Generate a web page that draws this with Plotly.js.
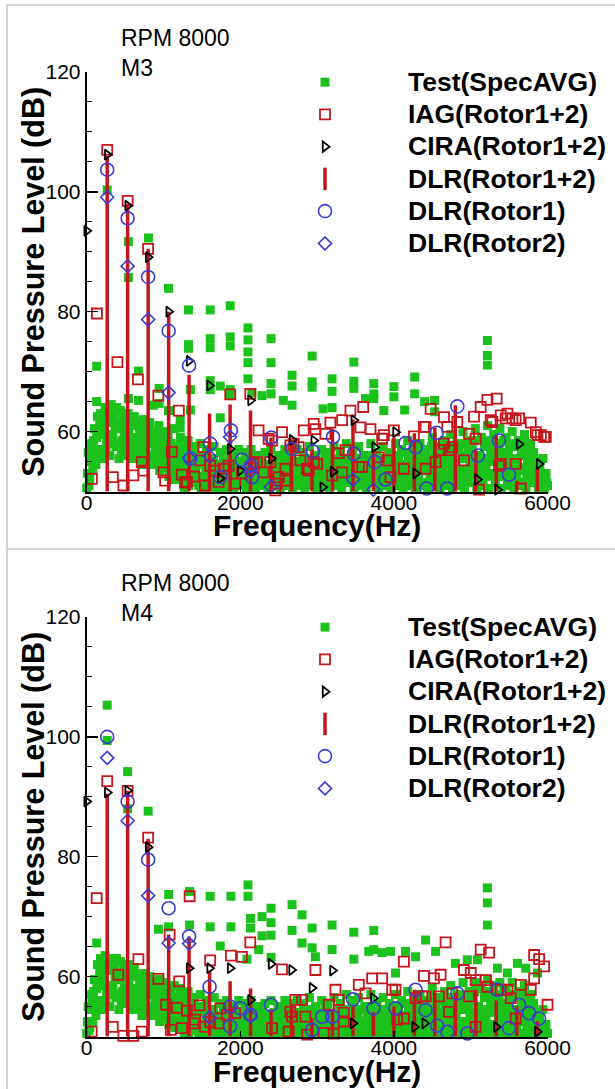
<!DOCTYPE html>
<html><head><meta charset="utf-8">
<script src="https://cdn.plot.ly/plotly-3.0.1.min.js"></script>
<style>html,body{margin:0;padding:0;background:#fff;}#chart{width:615px;height:1089px;}</style>
</head><body><div id="chart"></div>
<script>
// ---------------- DATA ----------------
// Test spectrum frequency grid (Hz), two interleaved read-outs
const testFreq = [
0,20,40,60,80,100,120,140,160,180,
200,220,240,260,280,300,320,340,360,380,
400,420,440,460,480,500,520,540,560,580,
600,620,640,660,680,700,720,740,760,780,
800,820,840,860,880,900,920,940,960,980,
1000,1020,1040,1060,1080,1100,1120,1140,1160,1180,
1200,1220,1240,1260,1280,1300,1320,1340,1360,1380,
1400,1420,1440,1460,1480,1500,1520,1540,1560,1580,
1600,1620,1640,1660,1680,1700,1720,1740,1760,1780,
1800,1820,1840,1860,1880,1900,1920,1940,1960,1980,
2000,2020,2040,2060,2080,2100,2120,2140,2160,2180,
2200,2220,2240,2260,2280,2300,2320,2340,2360,2380,
2400,2420,2440,2460,2480,2500,2520,2540,2560,2580,
2600,2620,2640,2660,2680,2700,2720,2740,2760,2780,
2800,2820,2840,2860,2880,2900,2920,2940,2960,2980,
3000,3020,3040,3060,3080,3100,3120,3140,3160,3180,
3200,3220,3240,3260,3280,3300,3320,3340,3360,3380,
3400,3420,3440,3460,3480,3500,3520,3540,3560,3580,
3600,3620,3640,3660,3680,3700,3720,3740,3760,3780,
3800,3820,3840,3860,3880,3900,3920,3940,3960,3980,
4000,4020,4040,4060,4080,4100,4120,4140,4160,4180,
4200,4220,4240,4260,4280,4300,4320,4340,4360,4380,
4400,4420,4440,4460,4480,4500,4520,4540,4560,4580,
4600,4620,4640,4660,4680,4700,4720,4740,4760,4780,
4800,4820,4840,4860,4880,4900,4920,4940,4960,4980,
5000,5020,5040,5060,5080,5100,5120,5140,5160,5180,
5200,5220,5240,5260,5280,5300,5320,5340,5360,5380,
5400,5420,5440,5460,5480,5500,5520,5540,5560,5580,
5600,5620,5640,5660,5680,5700,5720,5740,5760,5780,
5800,5820,5840,5860,5880,5900,5920,5940,5960,5980,
6000];
const testFreq2 = [
10,30,50,70,90,110,130,150,170,190,
210,230,250,270,290,310,330,350,370,390,
410,430,450,470,490,510,530,550,570,590,
610,630,650,670,690,710,730,750,770,790,
810,830,850,870,890,910,930,950,970,990,
1010,1030,1050,1070,1090,1110,1130,1150,1170,1190,
1210,1230,1250,1270,1290,1310,1330,1350,1370,1390,
1410,1430,1450,1470,1490,1510,1530,1550,1570,1590,
1610,1630,1650,1670,1690,1710,1730,1750,1770,1790,
1810,1830,1850,1870,1890,1910,1930,1950,1970,1990,
2010,2030,2050,2070,2090,2110,2130,2150,2170,2190,
2210,2230,2250,2270,2290,2310,2330,2350,2370,2390,
2410,2430,2450,2470,2490,2510,2530,2550,2570,2590,
2610,2630,2650,2670,2690,2710,2730,2750,2770,2790,
2810,2830,2850,2870,2890,2910,2930,2950,2970,2990,
3010,3030,3050,3070,3090,3110,3130,3150,3170,3190,
3210,3230,3250,3270,3290,3310,3330,3350,3370,3390,
3410,3430,3450,3470,3490,3510,3530,3550,3570,3590,
3610,3630,3650,3670,3690,3710,3730,3750,3770,3790,
3810,3830,3850,3870,3890,3910,3930,3950,3970,3990,
4010,4030,4050,4070,4090,4110,4130,4150,4170,4190,
4210,4230,4250,4270,4290,4310,4330,4350,4370,4390,
4410,4430,4450,4470,4490,4510,4530,4550,4570,4590,
4610,4630,4650,4670,4690,4710,4730,4750,4770,4790,
4810,4830,4850,4870,4890,4910,4930,4950,4970,4990,
5010,5030,5050,5070,5090,5110,5130,5150,5170,5190,
5210,5230,5250,5270,5290,5310,5330,5350,5370,5390,
5410,5430,5450,5470,5490,5510,5530,5550,5570,5590,
5610,5630,5650,5670,5690,5710,5730,5750,5770,5790,
5810,5830,5850,5870,5890,5910,5930,5950,5970,5990];

// Test(SpecAVG) broadband levels, M3
const testBandM3 = [
50.6,56.5,52.0,58.0,53.5,60.5,54.5,62.5,57.0,63.0,
55.5,61.0,64.0,58.0,62.5,56.0,64.5,59.5,63.0,57.5,
61.5,55.5,63.5,58.5,62.0,56.0,60.0,63.0,57.0,61.5,
55.5,62.5,58.5,61.0,56.0,60.5,54.5,62.0,57.5,59.5,
55.0,61.5,58.0,60.0,54.5,59.0,56.5,61.0,55.0,58.5,
54.0,60.0,56.5,59.5,53.5,58.0,55.0,60.5,53.0,57.5,
54.5,59.0,52.5,57.0,55.5,51.5,58.5,54.0,56.5,52.0,
57.5,53.0,55.5,51.0,58.0,52.5,56.0,50.5,57.0,54.0,
51.0,55.5,53.0,57.5,50.5,54.5,52.0,56.5,50.5,55.0,
53.0,57.0,51.0,55.5,52.5,56.0,50.5,54.0,52.0,57.0,
51.5,55.0,53.0,56.5,50.5,54.0,52.0,57.0,51.0,55.5,
50.5,53.5,56.0,52.5,55.0,51.0,56.5,53.0,50.5,54.5,
57.0,52.0,55.0,51.0,53.5,56.0,50.5,54.0,52.5,57.0,
51.5,55.5,53.0,56.5,50.5,54.5,52.0,57.0,51.0,55.0,
53.0,56.5,50.5,54.0,52.5,57.5,51.5,55.0,53.0,56.0,
50.5,54.5,52.0,57.0,51.0,55.5,53.0,56.5,50.5,54.0,
52.0,57.5,51.0,55.0,53.5,56.5,50.5,54.5,52.5,58.0,
51.5,55.5,53.0,57.0,50.5,54.0,52.0,57.5,51.0,55.5,
53.0,56.0,50.5,54.5,52.0,58.0,51.5,55.0,53.5,56.5,
50.5,54.0,52.5,57.5,51.0,55.5,53.0,56.5,50.5,54.5,
52.0,58.0,51.0,55.5,53.5,57.0,50.5,54.5,52.5,58.5,
51.5,56.0,53.0,57.5,50.5,55.0,52.0,58.0,51.0,56.5,
53.5,57.0,50.5,55.5,52.5,59.0,51.5,56.0,54.0,57.5,
50.5,55.0,52.5,58.5,51.0,56.5,53.5,59.5,50.5,55.0,
52.0,58.0,51.0,56.0,53.5,60.0,50.5,55.5,52.5,58.5,
51.5,57.0,54.0,60.5,50.5,56.0,52.5,59.0,51.0,57.5,
54.0,61.0,50.5,56.5,53.0,59.5,51.5,57.0,54.5,60.5,
50.5,56.0,52.5,59.0,51.0,57.5,54.0,60.0,50.5,55.5,
52.5,58.5,51.0,56.5,53.5,59.5,50.5,55.0,52.0,58.0,
51.5,56.5,53.0,55.0,50.5,54.0,52.0,55.5,50.5,53.0,
51.0];
const testBand2M3 = [
53.0,51.0,55.0,56.5,58.5,56.0,59.0,60.0,61.5,59.5,
60.0,62.5,57.0,63.0,59.5,61.5,58.0,62.0,60.5,64.0,
58.0,60.5,57.0,61.0,59.5,62.5,58.0,59.5,61.0,56.5,
59.0,57.0,61.5,55.5,60.0,57.5,59.0,56.0,60.5,55.5,
58.5,56.0,59.5,54.5,57.5,55.5,59.5,53.5,57.0,56.0,
57.5,55.0,58.5,52.5,56.0,55.5,57.5,52.0,56.5,54.0,
56.0,53.5,55.0,50.5,57.5,54.0,51.0,56.0,52.5,55.5,
51.5,54.5,52.5,56.0,50.5,55.0,52.0,53.5,51.5,55.5,
53.0,51.5,55.0,52.0,54.0,51.0,53.5,52.0,54.0,51.5,
55.0,52.0,53.5,50.5,54.0,52.0,55.5,51.0,53.5,51.5,
53.0,51.0,54.5,52.0,53.5,50.5,55.0,52.5,53.5,51.5,
54.0,52.0,51.5,54.5,51.0,53.5,52.0,54.5,51.5,53.0,
51.5,54.0,52.5,53.5,55.5,51.5,53.0,55.5,51.0,52.5,
54.0,52.0,51.0,53.5,55.0,52.5,53.5,51.0,54.0,52.5,
51.0,53.0,54.5,52.0,55.5,51.0,53.5,52.0,54.5,51.5,
53.0,52.0,55.0,51.5,53.5,51.5,55.0,52.0,53.5,52.0,
54.5,51.5,53.5,52.0,55.5,52.0,54.0,51.5,55.5,53.0,
54.0,52.0,51.5,53.5,55.5,52.5,54.5,51.5,53.5,52.0,
51.5,53.5,55.0,52.0,56.0,53.0,54.5,51.5,53.0,52.0,
53.0,52.0,55.5,51.5,54.0,52.0,51.5,54.0,52.5,56.0,
54.5,53.0,56.0,52.0,51.0,54.0,52.0,56.5,51.0,55.0,
53.5,52.5,55.0,51.5,54.0,53.0,56.5,51.5,54.5,53.5,
55.0,51.5,53.5,52.5,57.5,53.5,54.0,55.5,51.5,53.0,
53.0,57.0,53.5,55.5,52.5,54.0,57.5,52.0,56.5,53.5,
55.0,53.5,57.5,52.0,55.5,52.0,58.0,53.5,56.5,54.5,
55.0,52.5,58.5,53.0,56.0,54.5,53.5,55.5,54.0,53.0,
58.5,52.5,55.0,58.0,56.0,53.0,55.5,52.5,58.0,56.5,
54.0,58.5,53.5,55.0,56.5,52.5,58.0,55.0,52.0,57.5,
55.0,53.5,54.0,58.0,51.5,56.0,53.0,57.5,54.0,55.5,
53.5,52.5,54.5,51.5,53.5,52.0,51.5,53.0,52.5,51.5];

// Test(SpecAVG) broadband levels, M4
const testBandM4 = [
50.5,55.0,51.5,57.0,52.5,59.5,53.5,62.0,56.0,63.0,
54.5,60.5,63.5,57.0,61.5,55.0,63.0,58.5,62.0,56.5,
60.5,54.5,62.5,57.5,61.0,55.5,59.0,62.0,56.0,60.5,
54.5,61.5,57.5,60.0,55.0,59.5,53.5,60.5,56.5,58.5,
54.0,60.0,57.0,59.0,53.5,58.0,55.5,59.5,54.0,57.5,
53.0,59.0,55.5,58.0,52.5,57.0,54.0,58.5,52.0,56.5,
53.5,58.0,51.5,56.0,54.5,51.0,57.5,53.0,55.5,51.5,
56.5,52.0,54.5,50.5,57.0,51.5,55.0,50.5,56.0,53.0,
50.5,54.5,52.0,56.5,50.5,53.5,51.0,55.5,50.5,54.0,
52.0,56.0,50.5,54.5,51.5,55.0,50.5,53.0,51.0,56.0,
50.5,54.0,52.0,55.5,50.5,53.0,51.0,56.0,50.5,54.5,
50.5,52.5,55.0,51.5,54.0,50.5,55.5,52.0,50.5,53.5,
56.0,51.0,54.0,50.5,52.5,55.0,50.5,53.0,51.5,56.0,
50.5,54.5,52.0,55.5,50.5,53.5,51.0,56.0,50.5,54.0,
52.0,55.5,50.5,53.0,51.5,56.5,50.5,54.0,52.0,55.0,
50.5,53.5,51.0,56.0,50.5,54.5,52.0,55.5,50.5,53.0,
51.0,56.5,50.5,54.0,52.5,55.5,50.5,53.5,51.5,57.0,
50.5,54.5,52.0,56.0,50.5,53.0,51.0,56.5,50.5,54.5,
52.0,55.0,50.5,53.5,51.0,57.0,50.5,54.0,52.5,55.5,
50.5,53.0,51.5,56.5,50.5,54.5,52.0,55.5,50.5,53.5,
51.0,57.0,50.5,54.5,52.5,56.0,50.5,53.5,51.5,57.5,
50.5,55.0,52.0,56.5,50.5,54.0,51.0,57.0,50.5,55.5,
52.5,56.0,50.5,54.5,51.5,58.0,50.5,55.0,53.0,56.5,
50.5,54.0,51.5,57.5,50.5,55.5,52.5,58.5,50.5,54.0,
51.0,57.0,50.5,55.0,52.5,59.0,50.5,54.5,51.5,57.5,
50.5,56.0,53.0,59.0,50.5,55.0,51.5,58.0,50.5,56.5,
53.0,59.5,50.5,55.5,52.0,58.5,50.5,56.0,53.5,59.0,
50.5,55.0,51.5,58.0,50.5,56.5,53.0,59.0,50.5,54.5,
51.5,57.5,50.5,55.5,52.5,58.5,50.5,54.0,51.0,57.0,
50.5,55.5,52.0,54.0,50.5,53.0,51.0,54.5,50.5,52.0,
50.5];
const testBand2M4 = [
52.5,51.0,54.5,55.5,57.5,55.0,58.0,59.5,61.0,58.5,
59.5,62.0,56.0,62.5,58.5,61.0,57.0,61.5,59.5,63.0,
57.0,59.5,56.0,60.0,58.5,61.5,57.0,58.5,60.0,55.5,
58.0,56.0,60.0,54.5,59.0,56.5,58.0,55.0,59.5,54.5,
57.5,55.0,58.5,53.5,56.5,55.0,58.0,52.5,56.0,55.0,
56.5,54.0,57.5,52.0,55.0,54.5,56.5,51.5,55.5,53.0,
55.0,52.5,54.0,50.5,56.5,53.0,50.5,55.0,52.0,54.5,
51.0,53.5,52.0,55.0,50.5,54.0,51.5,52.5,51.0,54.5,
52.5,51.0,54.0,51.5,53.0,50.5,52.5,51.5,53.0,51.0,
54.0,51.5,52.5,50.5,53.0,51.5,54.5,50.5,52.5,51.0,
52.0,50.5,53.5,51.5,52.5,50.5,54.0,52.0,52.5,51.0,
53.0,51.5,51.0,53.5,50.5,52.5,51.5,53.5,51.0,52.0,
51.0,53.0,52.0,52.5,54.5,51.0,52.0,54.5,50.5,51.5,
53.0,51.5,50.5,52.5,54.0,52.0,52.5,50.5,53.0,52.0,
50.5,52.0,53.5,51.5,54.5,50.5,52.5,51.5,53.5,51.0,
52.0,51.5,54.0,51.0,52.5,51.0,54.0,51.5,52.5,51.5,
53.5,51.0,52.5,51.5,54.5,51.5,53.0,51.0,54.5,52.0,
53.0,51.5,51.0,52.5,54.5,52.0,53.5,51.0,52.5,51.5,
51.0,52.5,54.0,51.5,55.0,52.0,53.5,51.0,52.0,51.5,
52.0,51.5,54.5,51.0,53.0,51.5,51.0,53.0,52.0,55.0,
53.5,52.0,55.0,51.5,50.5,53.0,51.5,55.5,50.5,54.0,
52.5,52.0,54.0,51.0,53.0,52.0,55.5,51.0,53.5,52.5,
54.0,51.0,52.5,52.0,56.5,52.5,53.0,54.5,51.0,52.0,
52.0,56.0,52.5,54.5,51.5,53.0,56.5,51.5,55.5,52.5,
54.0,52.5,56.5,51.5,54.5,51.5,57.0,52.5,55.5,53.5,
54.0,51.5,57.5,52.0,55.0,53.5,52.5,54.5,53.0,52.0,
57.5,51.5,54.0,57.0,55.0,52.0,54.5,51.5,57.0,55.5,
53.0,57.5,52.5,54.0,55.5,51.5,57.0,54.0,51.0,56.5,
54.0,52.5,53.0,57.0,50.5,55.0,52.0,56.5,53.0,54.5,
52.5,51.5,53.5,50.5,52.5,51.0,50.5,52.0,51.5,50.5];

// Test(SpecAVG) tonal / high-level points
const testPeakFreqM3 = [267,543,543,804,1065,130,130,543,673,673,869,943,943,1065,1217,1217,
1325,1325,1325,1350,1350,1608,1608,1608,1608,1608,1739,1739,1869,1869,1869,1869,1869,
2100,2100,2100,2100,2100,2150,2283,2400,2400,2400,2400,2560,2674,2674,2674,2935,2935,2935,
3078,3195,3195,3195,3478,3478,3478,3630,3738,3738,3738,3869,4000,4000,4140,4270,4270,4400,
4530,4530,5217,5217,5217];
const testPeakM3 = [100.3,91.7,85.7,92.3,83.9,70.9,65.0,65.5,70.1,65.2,64.4,67.2,64.7,63.5,62.0,60.6,
80.3,74.5,73.9,67.0,63.6,80.3,75.5,74.0,68.5,67.0,67.6,62.3,81.0,75.8,74.3,67.0,66.0,
77.3,75.3,73.3,71.5,68.8,66.5,66.0,75.5,71.5,68.0,66.3,65.2,69.4,67.6,64.4,72.6,68.3,67.4,
63.8,68.8,66.7,64.0,71.6,68.4,67.2,65.5,68.0,66.3,65.5,63.5,67.5,65.8,63.6,69.1,66.3,65.0,
65.2,63.3,75.2,72.7,71.1];

const testPeakFreqM4 = [267,267,533,533,800,130,934,1067,1067,1340,1340,1608,1608,1878,1878,1739,
2100,2100,2133,2133,2087,2400,2400,2400,2400,2283,2283,2240,2674,2674,2804,2804,2935,2935,2978,
3195,3195,3478,3478,3673,3738,3738,3847,3956,4021,4152,4282,4413,4543,4800,4956,5087,
5217,5217,5217,5348,5478,5608,5717,5870];
const testPeakM4 = [105.3,99.4,94.2,88.0,87.6,65.6,67.9,73.7,68.3,74.2,68.6,73.4,68.3,73.4,68.3,65.1,
75.3,73.4,69.7,68.1,62.9,71.4,69.0,66.9,63.2,70.0,66.8,64.5,72.0,67.7,70.3,65.6,68.1,64.8,63.3,
68.6,64.5,67.4,62.9,64.2,67.7,64.5,64.0,64.2,60.6,64.2,63.3,66.1,64.2,62.2,62.8,62.8,
74.8,72.3,68.6,61.4,60.6,62.2,61.4,60.6];

// IAG(Rotor1+2)
const iagFreqM3 = [67,133,267,339,400,478,533,608,667,717,738,800,933,1000,1021,1108,1200,1239,1280,1304,
1400,1478,1521,1540,1608,1673,1717,1782,1847,1869,1934,2021,2130,2130,2174,2217,2238,2304,2369,2391,
2413,2456,2478,2500,2543,2587,2587,2652,2695,2760,2782,2826,2870,2891,2956,2956,2978,3000,3108,3173,
3195,3282,3326,3326,3369,3434,3543,3565,3587,3600,3695,3804,3847,3869,3913,3956,4000,4130,4260,4391,
4413,4413,4478,4543,4608,4652,4652,4695,4717,4760,4826,4912,4978,5043,5065,5108,5130,5217,5260,5282,
5338,5369,5391,5391,5456,5478,5543,5586,5586,5630,5652,5782,5847,5869,5913,5956,5978,6008];
const iagM3 = [52.1,79.7,107.0,52.4,71.6,51.0,98.5,52.7,68.7,54.9,53.5,90.5,66.0,53.2,51.8,56.6,63.5,52.8,51.5,51.6,
52.5,55.2,57.4,51.0,54.3,53.5,51.6,53.8,54.3,66.2,51.3,53.0,66.3,54.0,54.6,54.9,60.2,53.2,58.8,54.9,
58.5,50.2,51.3,52.4,59.9,51.8,53.8,57.7,58.0,57.4,55.2,60.2,53.8,53.5,61.3,54.9,60.4,54.6,59.6,61.5,
52.7,56.4,61.9,53.2,56.9,63.5,54.1,60.7,54.1,64.1,60.4,55.7,58.8,59.4,55.2,52.4,60.2,53.8,59.2,60.8,
60.8,53.8,63.8,54.9,56.9,62.4,58.0,60.8,56.9,57.4,61.6,55.2,59.6,62.5,58.8,50.3,64.1,65.3,61.9,61.6,
65.5,54.3,62.7,54.6,62.2,63.0,62.2,61.9,54.6,62.2,50.5,61.5,59.9,59.4,59.4,59.1,59.1,64.8];

const iagFreqM4 = [65,130,267,339,412,478,533,608,673,717,800,934,1034,1080,1095,1174,1204,1239,1304,1340,
1391,1413,1469,1543,1608,1608,1717,1739,1826,1878,1934,2021,2130,2413,2543,2630,2652,2674,2717,2804,
2848,2870,2978,3086,3152,3217,3239,3282,3347,3347,3543,3630,3717,3847,3978,4021,4043,4130,4130,4282,
4369,4391,4413,4521,4586,4608,4673,4717,4760,4912,4978,5000,5065,5065,5130,5195,5217,5239,5391,5478,
5521,5586,5652,5782,5826,5826,5891,5956,6000];
const iagM4 = [50.8,73.1,92.6,51.6,60.3,50.1,91.0,50.1,62.9,50.8,83.2,59.6,55.3,67.0,51.1,54.8,59.2,51.4,54.3,73.4,
52.2,52.8,55.2,51.6,62.7,52.4,52.2,54.7,53.6,63.5,53.9,63.3,65.7,51.4,61.2,50.8,54.1,53.3,56.1,56.1,
53.3,50.3,61.1,50.6,55.3,50.5,57.8,56.1,54.0,52.5,58.6,57.2,59.7,59.7,57.8,57.8,52.8,62.5,53.0,56.4,
56.7,60.1,56.7,59.7,56.7,60.3,65.7,54.1,57.2,61.1,56.7,60.6,59.4,51.6,64.5,59.4,58.3,64.0,57.8,57.8,
56.4,53.0,58.6,57.8,63.6,59.7,62.9,61.7,55.3];

// CIRA(Rotor1+2)
const ciraFreqM3 = [0,267,533,800,1067,1333,1600,1739,1867,2000,2133,2404,2674,2956,3073,3208,3478,3748,4021,4282,5087,5348,5629,5891];
const ciraM3 = [93.5,106.2,97.7,89.1,80.0,71.8,67.7,52.2,57.1,53.5,65.2,55.5,58.6,58.5,50.7,53.3,61.9,57.4,59.9,53.0,52.0,50.3,57.9,54.6];
const ciraFreqM4 = [0,267,533,800,1333,1600,1867,2133,2400,2667,2933,3200,3467,3733,4267,4400,5333,5867];
const ciraM4 = [89.2,90.7,91.0,81.6,61.4,61.4,61.4,56.1,62.1,61.1,58.1,61.0,52.2,56.4,51.6,52.2,51.6,50.8];

// DLR(Rotor1+2): tonal lines at blade passing frequency harmonics
const dlrFreq = [267,533,800,1067,1333,1600,1867,2133,2400,2667,2933,3200,3467,3733,4000,4267,4533,4800,5067,5333,5600,5867];
const dlr12M3 = [106,98,90.5,80,69.5,63,64.5,63.5,59,58.5,57,60.5,62,57,59,59.7,60.7,64.4,56.9,59.4,51.8,54];
const dlr12M4 = [90.5,91,83,67,66.7,61,59.2,58,54.5,55,53,54.5,55,54,55,57.8,57.3,57.3,57.8,56,55,52.5];

// DLR(Rotor1)
const dlr1FreqM3 = [267,533,800,1067,1333,1350,1608,1739,1878,2021,2139,2152,2404,2674,2943,3208,3478,3752,3891,4152,4283,4426,4556,4695,4826,5095,5369,5499];
const dlr1M3 = [103.7,95.6,85.8,76.8,71.0,55.5,58.0,52.4,60.2,55.3,54.3,52.4,59.0,57.1,56.7,59.1,56.3,54.9,52.0,58.1,57.4,50.5,59.8,50.5,64.2,56.0,58.5,52.8];
const dlr1FreqM4 = [267,533,800,1067,1333,1600,1867,1867,2000,2133,2400,2933,3067,3200,3467,3733,4021,4282,4413,4565,4695,4826,4956,5348,5499,5630,5760,5891];
const dlr1M4 = [100,89.2,79.5,71.4,66.7,58.3,55.0,51.7,54.7,53.6,55.3,51.1,53.3,53.3,56.2,54.7,54.7,57.8,54.4,51.8,50.8,57.2,50.5,57.8,51.4,55.3,53.9,53.0];

// DLR(Rotor2)
const dlr2FreqM3 = [267,533,800,1067,1333,1600,1867,2133,2400,3467,3733];
const dlr2M3 = [99.1,87.6,78.7,66.5,55.6,55.9,59.1,53.3,50.8,52.0,50.3];
const dlr2FreqM4 = [267,533,800,1067,1333,1600,2133];
const dlr2M4 = [96.5,86.0,73.5,65.6,65.5,53.2,53.4];

const seriesNames = ['Test(SpecAVG)','IAG(Rotor1+2)','CIRA(Rotor1+2)','DLR(Rotor1+2)','DLR(Rotor1)','DLR(Rotor2)'];
const panelLabels = ['RPM 8000<br>M3','RPM 8000<br>M4'];
const xTitle = 'Frequency(Hz)';
const yTitle = 'Sound Pressure Level (dB)';
const xTickVals = [0,2000,4000,6000];
const yTickVals = [60,80,100,120];
const yFloor = 50;

// ---------------- STYLE ----------------
const W = 615, H = 1089;
const FONT = 'Liberation Sans, Arial, Helvetica, sans-serif';
const GREEN = '#1cc21c', RED = '#c4161c', BLUE = '#3c3cd0', BLACK = '#000000';
const plotLeft = 86.7, plotRight = 547.5;
const panels = [
  {top: 72, bottom: 491.5, legendTop: 61, labelY: 53, xTitleY: 526},
  {top: 617, bottom: 1036.5, legendTop: 606, labelY: 598, xTitleY: 1071}
];

function stems(freqs, vals) {
  const xs = [], ys = [];
  for (let i = 0; i < freqs.length; i++) {
    xs.push(freqs[i], freqs[i], null);
    ys.push(yFloor, vals[i], null);
  }
  return {x: xs, y: ys};
}
function legendName(s) { return '<span style="font-size:26.5px">' + s + '</span>'; }

const data = [];
const sets = [
  {band: testBandM3, band2: testBand2M3, pf: testPeakFreqM3, pv: testPeakM3, iagF: iagFreqM3, iag: iagM3, ciraF: ciraFreqM3, cira: ciraM3,
   d12: dlr12M3, d1F: dlr1FreqM3, d1: dlr1M3, d2F: dlr2FreqM3, d2: dlr2M3},
  {band: testBandM4, band2: testBand2M4, pf: testPeakFreqM4, pv: testPeakM4, iagF: iagFreqM4, iag: iagM4, ciraF: ciraFreqM4, cira: ciraM4,
   d12: dlr12M4, d1F: dlr1FreqM4, d1: dlr1M4, d2F: dlr2FreqM4, d2: dlr2M4}
];

sets.forEach((s, p) => {
  const xa = p === 0 ? 'x' : 'x2', ya = p === 0 ? 'y' : 'y2', lg = p === 0 ? 'legend' : 'legend2';
  const common = {xaxis: xa, yaxis: ya, legend: lg, type: 'scatter', cliponaxis: false, hoverinfo: 'skip'};
  data.push(Object.assign({}, common, {name: legendName(seriesNames[0]), legendrank: 1, mode: 'markers',
    x: testFreq.concat(testFreq2, s.pf), y: s.band.concat(s.band2, s.pv),
    marker: {symbol: 'square', size: 9, color: GREEN, line: {width: 0}}}));
  const st = stems(dlrFreq, s.d12);
  data.push(Object.assign({}, common, {name: legendName(seriesNames[3]), showlegend: false, mode: 'lines',
    x: st.x, y: st.y, line: {color: RED, width: 3.5}, connectgaps: false}));
  data.push(Object.assign({}, common, {name: legendName(seriesNames[3]), legendrank: 4, mode: 'markers',
    x: [null], y: [null],
    marker: {symbol: 'line-ns-open', size: 16, color: RED, line: {width: 3.5, color: RED}}}));
  data.push(Object.assign({}, common, {name: legendName(seriesNames[1]), legendrank: 2, mode: 'markers',
    x: s.iagF, y: s.iag,
    marker: {symbol: 'square-open', size: 10, color: RED, line: {width: 1.8, color: RED}}}));
  data.push(Object.assign({}, common, {name: legendName(seriesNames[2]), legendrank: 3, mode: 'markers',
    x: s.ciraF, y: s.cira,
    marker: {symbol: 'triangle-right-open', size: 9, color: BLACK, line: {width: 1.8, color: BLACK}}}));
  data.push(Object.assign({}, common, {name: legendName(seriesNames[4]), legendrank: 5, mode: 'markers',
    x: s.d1F, y: s.d1,
    marker: {symbol: 'circle-open', size: 13, color: BLUE, line: {width: 1.6, color: BLUE}}}));
  data.push(Object.assign({}, common, {name: legendName(seriesNames[5]), legendrank: 6, mode: 'markers',
    x: s.d2F, y: s.d2,
    marker: {symbol: 'diamond-open', size: 10, color: BLUE, line: {width: 1.6, color: BLUE}}}));
});

function xAxis(anchor) {
  return {
    anchor: anchor, domain: [plotLeft / W, plotRight / W], range: [0, 6000],
    showline: true, linecolor: BLACK, linewidth: 2, mirror: false,
    ticks: 'inside', ticklen: 6, tickwidth: 1.5, tickcolor: BLACK, tickvals: xTickVals,
    ticklabelstandoff: -9,
    showgrid: false, zeroline: false, fixedrange: true,
    tickfont: {family: FONT, size: 21, color: BLACK}
  };
}
function yAxis(anchor, pn) {
  return {
    anchor: anchor, domain: [1 - pn.bottom / H, 1 - pn.top / H], range: [50, 120],
    showline: true, linecolor: BLACK, linewidth: 2,
    ticks: 'inside', ticklen: 11, tickwidth: 1.5, tickcolor: BLACK, tickvals: yTickVals,
    minor: {ticks: 'inside', ticklen: 5, tickwidth: 1, tickcolor: BLACK, dtick: 5, tick0: 50, showgrid: false},
    showgrid: false, zeroline: false, fixedrange: true,
    tickfont: {family: FONT, size: 21, color: BLACK}
  };
}
function legendDef(pn) {
  return {
    x: 242 / W, xanchor: 'left', y: 1 - pn.legendTop / H, yanchor: 'top',
    bgcolor: 'rgba(0,0,0,0)', borderwidth: 0, itemwidth: 156, tracegroupgap: 0,
    traceorder: 'normal', itemclick: false, itemdoubleclick: false,
    font: {family: FONT, size: 22.5, color: BLACK, weight: 'bold'}
  };
}

const annotations = [];
panels.forEach((pn, i) => {
  annotations.push({
    xref: 'paper', yref: 'paper', x: 119 / W, y: 1 - pn.labelY / H, xanchor: 'left', yanchor: 'middle',
    align: 'left', showarrow: false, text: panelLabels[i],
    font: {family: FONT, size: 23, color: BLACK}
  });
  // axis titles
  annotations.push({
    xref: 'paper', yref: 'paper', x: (plotLeft + plotRight) / 2 / W, y: 1 - pn.xTitleY / H,
    xanchor: 'center', yanchor: 'middle', showarrow: false, text: xTitle,
    font: {family: FONT, size: 30, color: BLACK, weight: 'bold'}
  });
  annotations.push({
    xref: 'paper', yref: 'paper', x: 34 / W, y: 1 - (pn.top + pn.bottom) / 2 / H,
    xanchor: 'center', yanchor: 'middle', textangle: -90, showarrow: false, text: yTitle,
    font: {family: FONT, size: 30.5, color: BLACK, weight: 'bold'}
  });
});

const layout = {
  width: W, height: H, margin: {l: 0, r: 0, t: 0, b: 0},
  paper_bgcolor: '#ffffff', plot_bgcolor: 'rgba(0,0,0,0)',
  showlegend: true,
  xaxis: xAxis('y'), yaxis: yAxis('x', panels[0]),
  xaxis2: xAxis('y2'), yaxis2: yAxis('x2', panels[1]),
  legend: legendDef(panels[0]), legend2: legendDef(panels[1]),
  annotations: annotations,
  shapes: [
    {type: 'line', xref: 'paper', yref: 'paper', x0: 7 / W, x1: 7 / W, y0: 0, y1: 1 - 5 / H, line: {color: '#a8a8a8', width: 1}},
    {type: 'line', xref: 'paper', yref: 'paper', x0: 7 / W, x1: 1, y0: 1 - 5 / H, y1: 1 - 5 / H, line: {color: '#a8a8a8', width: 1}},
    {type: 'line', xref: 'paper', yref: 'paper', x0: 7 / W, x1: 1, y0: 1 - 549 / H, y1: 1 - 549 / H, line: {color: '#a8a8a8', width: 1}}
  ]
};

Plotly.newPlot('chart', data, layout, {displayModeBar: false, staticPlot: true});
</script></body></html>
